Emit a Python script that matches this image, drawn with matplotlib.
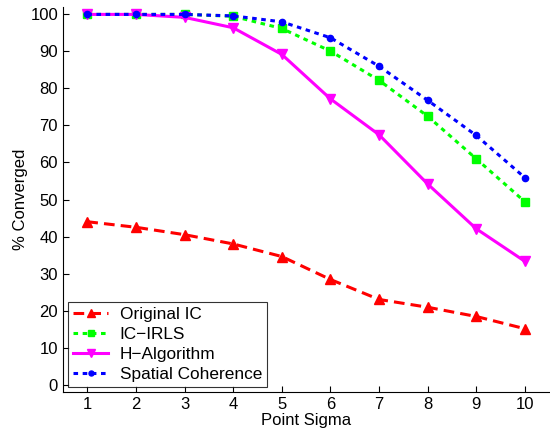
import matplotlib
matplotlib.use("Agg")
import matplotlib.pyplot as plt

plt.rcParams['font.family'] = ['Liberation Sans', 'DejaVu Sans']

sigma = [1, 2, 3, 4, 5, 6, 7, 8, 9, 10]
original_ic = [44, 42.5, 40.5, 38, 34.6, 28.4, 23, 20.9, 18.4, 15.1]
ic_irls = [100, 100, 100, 99.5, 96.2, 90.1, 82.2, 72.5, 61, 49.4]
h_algorithm = [100, 100, 99.2, 96.4, 89.2, 77.2, 67.5, 54.2, 42.1, 33.3]
spatial = [100, 100, 100, 99.6, 98, 93.7, 86, 76.8, 67.3, 55.9]

fig = plt.figure(figsize=(5.5, 4.38), dpi=100)
ax = fig.add_axes([0.1145, 0.105, 0.884, 0.879])

ax.plot(sigma, original_ic, color='#ff0000', lw=2.2, dashes=(3.5, 2),
        marker='^', ms=7.5, label='Original IC')
ax.plot(sigma, ic_irls, color='#00ff00', lw=2.2, dashes=(1.5, 1.5),
        marker='s', ms=5.5, label='IC\u2212IRLS')
ax.plot(sigma, h_algorithm, color='#ff00ff', lw=2.2, linestyle='-',
        marker='v', ms=7.5, label='H\u2212Algorithm')
ax.plot(sigma, spatial, color='#0000ff', lw=2.2, dashes=(1.5, 1.5),
        marker='o', ms=4.5, label='Spatial Coherence')

ax.set_xlim(0.5, 10.5)
ax.set_ylim(-2, 102)
ax.set_xticks(sigma)
ax.set_yticks(range(0, 101, 10))
ax.tick_params(direction='in', labelsize=12, length=4, width=0.8, colors='black')
for s in ['top', 'right']:
    ax.spines[s].set_visible(False)
for s in ['left', 'bottom']:
    ax.spines[s].set_linewidth(0.8)

ax.set_xlabel('Point Sigma', fontsize=12, labelpad=1)
ax.set_ylabel('% Converged', fontsize=12, labelpad=2)

leg = ax.legend(loc='lower left', fontsize=12.4, frameon=True, fancybox=False,
                edgecolor='black', borderpad=0.3, labelspacing=0.28,
                handlelength=2.0, handletextpad=0.7, borderaxespad=0.3,
                markerscale=0.8)
leg.get_frame().set_linewidth(0.8)

fig.savefig('out.png', dpi=100)
